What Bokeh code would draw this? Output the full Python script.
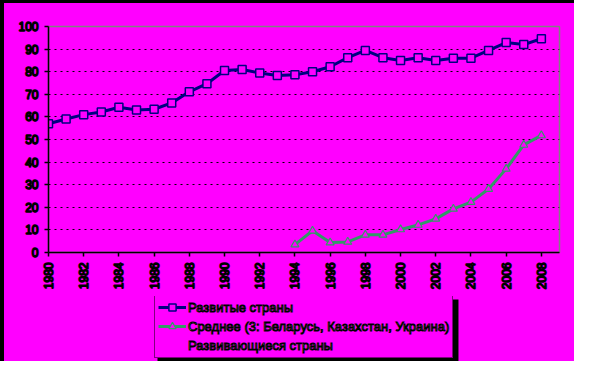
from bokeh.plotting import figure
from bokeh.models import Legend, LegendItem, FixedTicker, Range1d, BoxAnnotation
from bokeh.layouts import column
from bokeh.embed import file_html
from bokeh.resources import INLINE
import math

years = [1980, 1981, 1982, 1983, 1984, 1985, 1986, 1987, 1988, 1989,
         1990, 1991, 1992, 1993, 1994, 1995, 1996, 1997, 1998, 1999,
         2000, 2001, 2002, 2003, 2004, 2005, 2006, 2007, 2008]
developed = [57, 59.1, 61, 62.2, 64.3, 63.1, 63.4, 66.2, 71.1, 74.7,
             80.5, 81, 79.4, 78.3, 78.6, 80, 82.2, 86.2, 89.4, 86.2,
             85, 86.2, 85, 86, 86, 89.4, 92.9, 92, 94.6]
cis_years = [1994, 1995, 1996, 1997, 1998, 1999, 2000, 2001, 2002, 2003,
             2004, 2005, 2006, 2007, 2008]
cis = [3.5, 9.6, 4.4, 4.7, 7.8, 7.8, 10.2, 12.2, 14.9, 19.3,
       22.3, 28.1, 37, 47.6, 51.8]
x_ticks = [1980, 1982, 1984, 1986, 1988, 1990, 1992, 1994, 1996, 1998,
           2000, 2002, 2004, 2006, 2008]
y_ticks = [0, 10, 20, 30, 40, 50, 60, 70, 80, 90, 100]
labels = ["Развитые страны",
          "Среднее (3: Беларусь, Казахстан, Украина)",
          "Развивающиеся страны"]

MAG = "#FF00FF"
NAVY = "#000080"
GREEN = "#339966"
FONT = "Liberation Sans"
TXT = "#FFFFE8"
BG = {"background-color": MAG}

p = figure(width=570, height=293, output_backend="svg", toolbar_location=None,
           x_range=Range1d(1980, 2009.03), y_range=Range1d(0, 100),
           min_border_left=44, min_border_right=15, min_border_top=23,
           min_border_bottom=44, styles=BG)
p.background_fill_color = MAG
p.border_fill_color = MAG
p.outline_line_color = "#808080"
p.outline_line_width = 1.5

p.xgrid.visible = False
p.ygrid.ticker = FixedTicker(ticks=y_ticks[1:-1])
p.ygrid.grid_line_color = "black"
p.ygrid.grid_line_dash = "2 4"
p.ygrid.grid_line_width = 1

for ax in (p.xaxis[0], p.yaxis[0]):
    ax.axis_line_color = "black"
    ax.axis_line_width = 1.5
    ax.major_tick_line_color = "black"
    ax.major_tick_line_width = 1.5
    ax.major_tick_in = 0
    ax.major_tick_out = 4
    ax.minor_tick_line_color = None
    ax.major_label_text_font = FONT
    ax.major_label_text_font_size = "12px"
    ax.major_label_text_color = TXT
    ax.major_label_text_outline_color = "black"

p.xaxis.ticker = FixedTicker(ticks=x_ticks)
p.yaxis.ticker = FixedTicker(ticks=y_ticks)
p.xaxis.major_label_orientation = math.pi / 2
p.xaxis.major_label_standoff = 6
p.yaxis.major_label_standoff = 6

p.line(years, developed, line_color=NAVY, line_width=3)
p.scatter(years, developed, marker="square", size=8, fill_color=MAG,
          line_color=NAVY, line_width=1.5)
p.line(cis_years, cis, line_color=GREEN, line_width=3)
p.scatter(cis_years, cis, marker="triangle", size=8, fill_color=MAG,
          line_color=GREEN, line_width=1.2)

# legend panel (its frame is aligned with the chart's frame by the column)
q = figure(width=570, height=65, output_backend="svg", toolbar_location=None,
           x_range=Range1d(0, 1), y_range=Range1d(0, 1),
           min_border_left=44, min_border_right=15, min_border_top=0,
           min_border_bottom=0, styles=BG)
q.axis.visible = False
q.grid.visible = False
q.outline_line_color = None
q.background_fill_color = MAG
q.border_fill_color = MAG

# legend-only renderers, placed outside the visible range
ql1 = q.line([-5, -4], [-5, -4], line_color=NAVY, line_width=3)
qs1 = q.scatter([-5], [-5], marker="square", size=8, fill_color=MAG,
                line_color=NAVY, line_width=1.5)
ql2 = q.line([-5, -4], [-5, -4], line_color=GREEN, line_width=3)
qs2 = q.scatter([-5], [-5], marker="triangle", size=8, fill_color=MAG,
                line_color=GREEN, line_width=1.2)
ql3 = q.line([-5, -4], [-5, -4], line_color=MAG, line_alpha=0)

# drop shadow of the legend box
q.add_layout(BoxAnnotation(left=0.2133, right=0.8023, bottom=0, top=0.954,
                           fill_color="black", fill_alpha=1, line_color=None))

items = [LegendItem(label=labels[0], renderers=[ql1, qs1]),
         LegendItem(label=labels[1], renderers=[ql2, qs2]),
         LegendItem(label=labels[2], renderers=[ql3])]
leg = Legend(items=items, location=(106, 3),
             orientation="vertical", padding=3, spacing=1, margin=0,
             glyph_width=28, glyph_height=18, label_height=18,
             label_standoff=2, label_text_font=FONT,
             label_text_font_size="13px",
             background_fill_color=MAG, background_fill_alpha=1,
             border_line_color="black", border_line_width=1.5,
             label_text_color=TXT)
leg.label_text_outline_color = "black"
q.add_layout(leg, "center")

layout = column(p, q, spacing=0,
                styles={"background-color": MAG,
                        "border-left": "4px solid black",
                        "border-top": "3px solid black"})
open("out.html", "w").write(file_html(layout, INLINE))
